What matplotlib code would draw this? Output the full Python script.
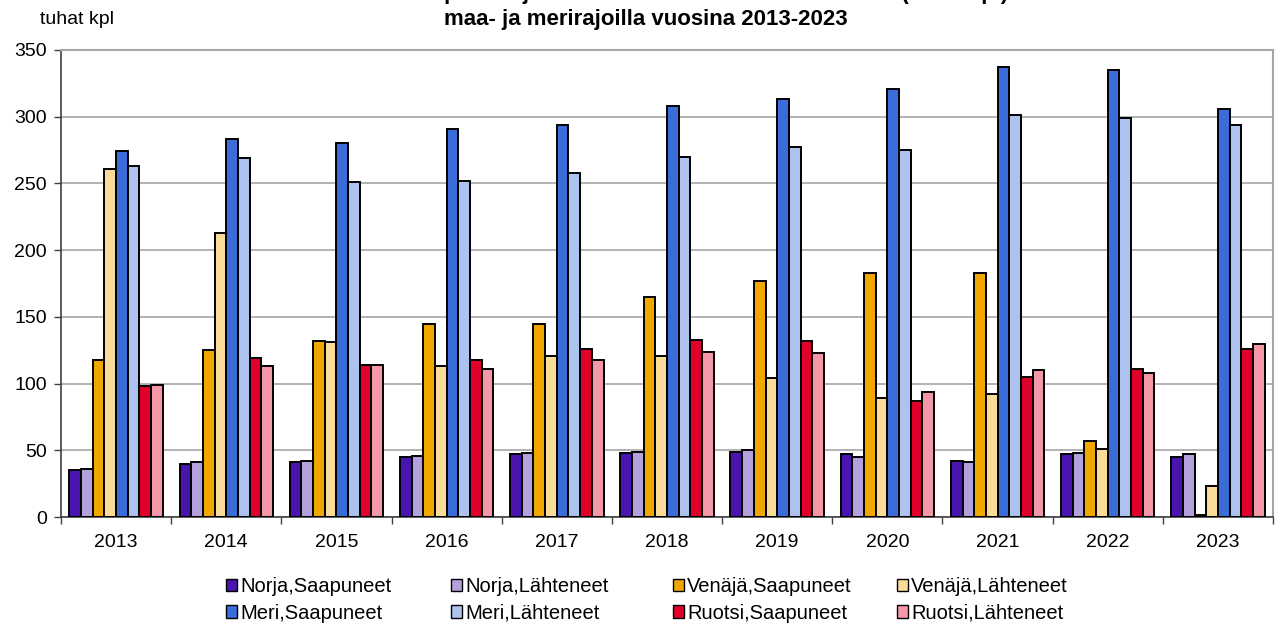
import matplotlib
matplotlib.use("Agg")
import matplotlib.pyplot as plt
import numpy as np
from matplotlib.patches import Patch

plt.rcParams['font.family'] = ['Liberation Sans', 'DejaVu Sans']

years = ['2013', '2014', '2015', '2016', '2017', '2018', '2019', '2020', '2021', '2022', '2023']
series_names = ['Norja,Saapuneet', 'Norja,Lähteneet', 'Venäjä,Saapuneet', 'Venäjä,Lähteneet',
                'Meri,Saapuneet', 'Meri,Lähteneet', 'Ruotsi,Saapuneet', 'Ruotsi,Lähteneet']
norja_saapuneet = [35, 40, 41, 45, 47, 48, 49, 47, 42, 47, 45]
norja_lahteneet = [36, 41, 42, 46, 48, 49, 50, 45, 41, 48, 47]
venaja_saapuneet = [118, 125, 132, 145, 145, 165, 177, 183, 183, 57, 1.5]
venaja_lahteneet = [261, 213, 131, 113, 121, 121, 104, 89, 92, 51, 23]
meri_saapuneet = [274, 283, 280, 291, 294, 308, 313, 321, 337, 335, 306]
meri_lahteneet = [263, 269, 251, 252, 258, 270, 277, 275, 301, 299, 294]
ruotsi_saapuneet = [98, 119, 114, 118, 126, 133, 132, 87, 105, 111, 126]
ruotsi_lahteneet = [99, 113, 114, 111, 118, 124, 123, 94, 110, 108, 130]
colors = ['#4A14AE', '#B3A0DC', '#F0A800', '#F8DC98', '#3A6CDA', '#AEC2F0', '#E0002C', '#F498A8']

data = [norja_saapuneet, norja_lahteneet, venaja_saapuneet, venaja_lahteneet,
        meri_saapuneet, meri_lahteneet, ruotsi_saapuneet, ruotsi_lahteneet]

fig = plt.figure(figsize=(12.77, 6.28), dpi=100)
ax = fig.add_axes([61/1277, 1 - 517/628, (1273-61)/1277, (517-50)/628])

x = np.arange(len(years))
bw = 0.106
n = len(data)
for i, (vals, c) in enumerate(zip(data, colors)):
    offs = (i - (n - 1) / 2) * bw
    ax.bar(x + offs, vals, width=bw, color=c, edgecolor='black', linewidth=1.4, zorder=3)

ax.set_xlim(-0.5, len(years) - 0.5)
ax.set_ylim(0, 350)
ax.set_yticks(np.arange(0, 351, 50))
ax.yaxis.grid(True, color='#a6a6a6', linewidth=1.2, zorder=0)
ax.set_axisbelow(True)
ax.set_xticks(x)
ax.set_xticklabels(years, fontsize=14)
ax.set_xticks(np.arange(-0.5, len(years), 1), minor=True)
ax.tick_params(axis='x', which='major', length=0, pad=12)
ax.tick_params(axis='x', which='minor', length=5, width=1, color='#404040', direction='out')
ax.tick_params(axis='y', length=5, width=1, color='#404040', labelsize=14, pad=5)
for side in ['top', 'right']:
    ax.spines[side].set_color('#a6a6a6')
    ax.spines[side].set_linewidth(1.5)
for side in ['left', 'bottom']:
    ax.spines[side].set_color('#404040')
    ax.spines[side].set_linewidth(1.2)

fig.text(40/1277, 1 - 20/628, 'tuhat kpl', fontsize=14, va='center', ha='left')
fig.text(655/1277, 1 + 1/628, 'Suomeen saapuneet ja Suomesta lähteneet henkilöautot (tuhat kpl)',
         fontsize=16, fontweight='bold', ha='center', va='baseline')
fig.text(646/1277, 1 - 19/628, 'maa- ja merirajoilla vuosina 2013-2023',
         fontsize=16, fontweight='bold', ha='center', va='center')

# legend: four columns at fixed positions (two rows each)
columns = [[0, 4], [1, 5], [2, 6], [3, 7]]
col_x = [226, 451, 673, 897]
for cx, idxs in zip(col_x, columns):
    handles = [Patch(facecolor=colors[i], edgecolor='black', linewidth=1.0) for i in idxs]
    labels = [series_names[i] for i in idxs]
    leg = fig.legend(handles, labels, ncol=1, loc='center left',
                     bbox_to_anchor=(cx/1277, 1 - 600/628), borderaxespad=0, borderpad=0,
                     frameon=False, fontsize=14.5, handlelength=0.55, handleheight=0.55,
                     handletextpad=0.15, labelspacing=0.36)

fig.savefig('out.png', dpi=100)
